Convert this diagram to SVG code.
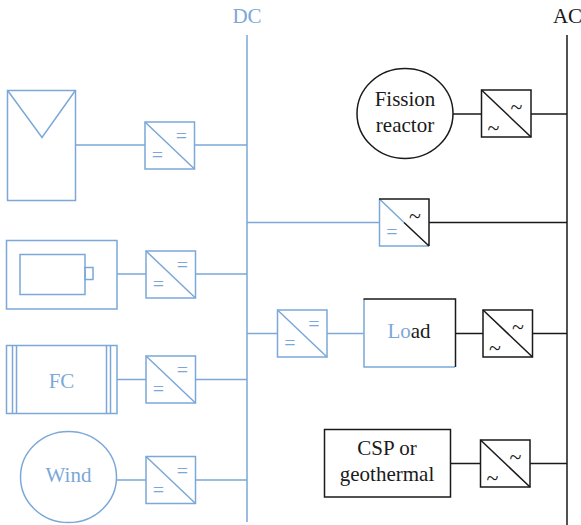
<svg xmlns="http://www.w3.org/2000/svg" width="581" height="525" viewBox="0 0 581 525">
<style>
text{font-family:"Liberation Serif","Noto Serif",serif;font-size:21px;text-anchor:middle}
.b{fill:none;stroke:#7ba8d8;stroke-width:1.5}
.k{fill:none;stroke:#1a1a1a;stroke-width:1.5}
.bt{fill:#7ba8d8}
.kt{fill:#1a1a1a}
.s{font-size:20px}
.t{font-size:22px}
</style>
<defs>
<g id="dc"><rect class="b" x="0" y="0" width="49.5" height="47"/><path class="b" d="M0 0L49.5 47"/><text class="bt s" x="36.5" y="21">=</text><text class="bt s" x="12.5" y="40">=</text></g>
<g id="ac"><rect class="k" x="0" y="0" width="49.5" height="47"/><path class="k" d="M0 0L49.5 47"/><text class="kt t" x="35" y="24">~</text><text class="kt t" x="12" y="45">~</text></g>
</defs>
<g id="connectors">
<path class="b" d="M247 35V522M75.500 145H145M194.500 145H247M117 274H146M195.500 274H247M247 222.500H379M247 333.500H277.500M327 333.500H363.500M117 379.500H146M195.500 379.500H247M116.500 480H146M195.500 480H247"/>
<path class="k" d="M567 35V525M453 114H481M531 114H567M429 222.500H567M455.500 333.500H483M532.500 333.500H567M450.500 463.500H480.500M530 463.500H567"/>
</g>
<g id="dc-label"><text class="bt" x="247" y="23">DC</text></g>
<g id="ac-label"><text class="kt" x="567.500" y="23">AC</text></g>
<g id="pv"><rect class="b" x="7.500" y="90.500" width="68" height="110"/><path class="b" d="M8 91L42 137.500L75 91"/></g>
<g id="conv-pv"><use href="#dc" x="145" y="122"/></g>
<g id="battery"><rect class="b" x="6.500" y="240.500" width="110.500" height="68.500"/><rect class="b" x="20" y="254.500" width="65" height="40"/><rect class="b" x="85" y="267.500" width="8" height="12"/></g>
<g id="conv-battery"><use href="#dc" x="146" y="251"/></g>
<g id="fc"><rect class="b" x="6.500" y="345.500" width="110.500" height="68"/><path class="b" d="M12.500 345.500V413.500M16.500 345.500V413.500M106.500 345.500V413.500M110.500 345.500V413.500"/><text class="bt" x="61.500" y="388">FC</text></g>
<g id="conv-fc"><use href="#dc" x="146" y="356"/></g>
<g id="wind"><ellipse class="b" cx="68.500" cy="477" rx="48" ry="45.500"/><text class="bt" x="68.500" y="482">Wind</text></g>
<g id="conv-wind"><use href="#dc" x="146" y="456.500"/></g>
<g id="fission"><ellipse class="k" cx="405" cy="113.500" rx="48" ry="45"/><text class="kt" x="405" y="106">Fission</text><text class="kt" x="405" y="131.500">reactor</text></g>
<g id="conv-fission"><use href="#ac" x="481.500" y="90"/></g>
<g id="conv-mixed">
<path class="b" d="M379.500 199V246H429M379.500 199L404 222.500"/>
<path class="k" d="M379 199H429V246M404 222.500L429 246"/>
<text class="kt t" x="415" y="223">~</text><text class="bt s" x="392" y="239">=</text>
</g>
<g id="conv-load-dc"><use href="#dc" x="277.500" y="310"/></g>
<g id="load">
<path class="b" d="M364 299V367H455"/>
<path class="k" d="M363.500 299H455.500V367"/>
<text x="409" y="338"><tspan class="bt">Lo</tspan><tspan class="kt">ad</tspan></text>
</g>
<g id="conv-load-ac"><use href="#ac" x="483" y="310"/></g>
<g id="csp"><rect class="k" x="324.500" y="429.500" width="126" height="67.500"/><text class="kt" x="387" y="455">CSP or</text><text class="kt" x="387" y="481">geothermal</text></g>
<g id="conv-csp"><use href="#ac" x="480.500" y="440"/></g>
</svg>
